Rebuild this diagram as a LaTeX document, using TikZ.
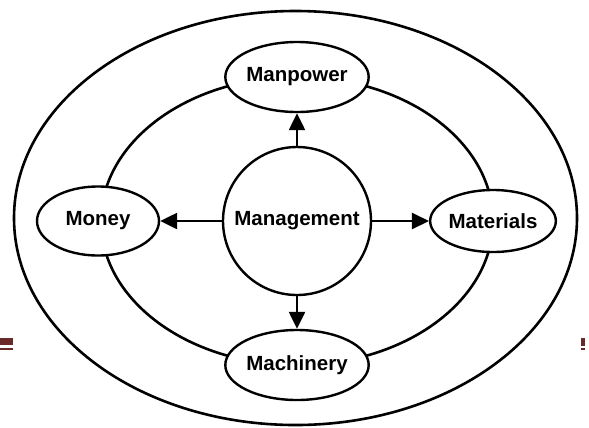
\documentclass[tikz,border=0pt]{standalone}
\usepackage{fontspec}
\setmainfont{Liberation Sans}
\usetikzlibrary{shapes.geometric,arrows.meta}
\definecolor{barbrown}{HTML}{6B2A2A}
\begin{document}
\begin{tikzpicture}[x=1bp,y=-1bp,
  ring/.style={line width=2.6bp},
  oval/.style={ellipse,draw,line width=2.4bp,fill=white,inner sep=0pt,
    font=\fontsize{20.5bp}{24bp}\selectfont\bfseries},
  conn/.style={line width=2.4bp,-{Triangle[length=17bp,width=16bp]}}]
\useasboundingbox (0,0) rectangle (589,427);
\fill[white] (0,0) rectangle (589,427);
% slide decorations
\fill[barbrown] (0,338) rectangle (13,345);
\fill[barbrown] (0,348) rectangle (13,350);
\fill[barbrown] (581,338) rectangle (585,346);
\fill[barbrown] (581,348) rectangle (585,350);
% rings
\draw[ring] (295.5,218) ellipse [x radius=281.5bp, y radius=207bp];
\draw[ring] (297,221) ellipse [x radius=196bp, y radius=144bp];
% nodes
\node[oval,minimum width=122bp,minimum height=70bp] (manpower) at (297,77) {Manpower};
\node[oval,minimum width=122bp,minimum height=69bp] (money) at (98,221) {Money};
\node[oval,minimum width=120bp,minimum height=62bp] (materials) at (493,221) {Materials};
\node[oval,minimum width=120bp,minimum height=70bp] (machinery) at (297,365) {Machinery};
\node[oval,circle,minimum size=148bp] (management) at (297,221) {Management};
% connectors
\draw[conn] (management.north) -- (manpower.south);
\draw[conn] (management.south) -- (machinery.north);
\draw[conn] (management.west) -- (money.east);
\draw[conn] (management.east) -- (materials.west);
\end{tikzpicture}
\end{document}
